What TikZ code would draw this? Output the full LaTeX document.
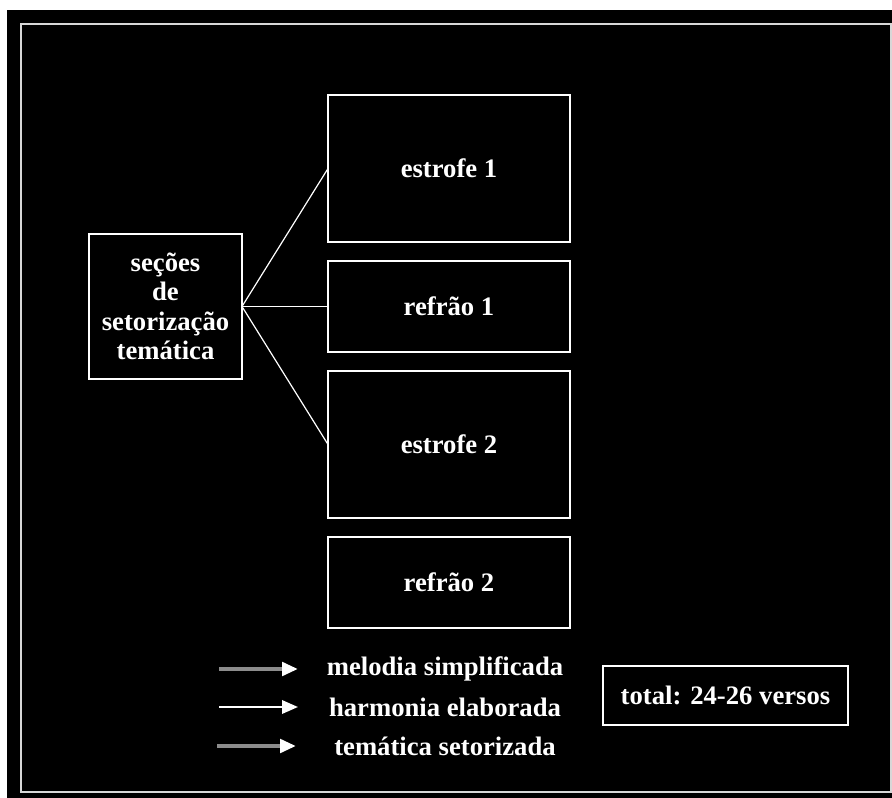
\documentclass[tikz,border=0pt]{standalone}
\usepackage{fontspec}
\setmainfont{Liberation Serif}
\usetikzlibrary{arrows.meta, positioning}
\definecolor{frameGray}{RGB}{215,215,215}
\definecolor{keyGray}{RGB}{140,140,140}

\begin{document}
\begin{tikzpicture}[x=0.75pt,y=-0.75pt,
    box/.style={draw=white,line width=1.5pt,outer sep=0pt,inner sep=0pt,
      text=white,align=center,font=\bfseries\fontsize{20}{22}\selectfont},
    link/.style={white,line width=0.9pt},
    keytext/.style={text=white,font=\bfseries\fontsize{20}{22}\selectfont},
    keyarrow/.style={line width=3pt,-{Triangle[length=12pt,width=10pt,color=white]}}]
  % Background and outer frame
  \useasboundingbox (0,0) rectangle (892,798);
  \fill[black] (7,10) rectangle (892,798);
  \draw[frameGray,line width=1.5pt] (21,24) rectangle (891,792);
  % Sections
  \node[box,minimum width=114.75pt,minimum height=108.75pt] (sec) at (165.5,306.5)
    {seções\\de\\setorização\\temática};
  \node[box,minimum width=181.5pt,minimum height=110.25pt] (e1) at (449,168.5) {estrofe 1};
  \node[box,minimum width=181.5pt,minimum height=68.25pt,below=14.25pt of e1] (r1) {refrão 1};
  \node[box,minimum width=181.5pt,minimum height=110.25pt,below=14.25pt of r1] (e2) {estrofe 2};
  \node[box,minimum width=181.5pt,minimum height=68.25pt,below=14.25pt of e2] (r2) {refrão 2};
  % Links
  \draw[link] (sec.east) -- (e1.west);
  \draw[link] (sec.east) -- (r1.west);
  \draw[link] (sec.east) -- (e2.west);
  % Legend
  \node[keytext] (mel) at (445,669) {melodia simplificada};
  \node[keytext] (har) at (445,707) {harmonia elaborada};
  \node[keytext] (tem) at (445,746) {temática setorizada};
  \coordinate (mel0) at (219,669);
  \coordinate (mel1) at (298,669);
  \coordinate (har0) at (219,707);
  \coordinate (har1) at (298,707);
  \coordinate (tem0) at (217,746);
  \coordinate (tem1) at (296,746);
  \draw[keyarrow,keyGray] (mel0) -- (mel1);
  \draw[keyarrow,white,line width=1.8pt] (har0) -- (har1);
  \draw[keyarrow,keyGray] (tem0) -- (tem1);
  % Total
  \node[box,minimum width=183.75pt,minimum height=44.25pt] (tot) at (725.5,695.5)
    {total: 24-26 versos};
\end{tikzpicture}
\end{document}
